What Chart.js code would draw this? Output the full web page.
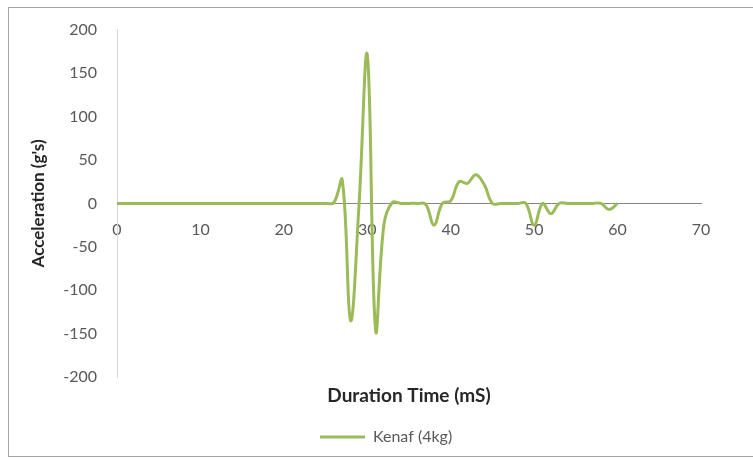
<!DOCTYPE html>
<html>
<head>
<meta charset="utf-8">
<script src="https://cdn.jsdelivr.net/npm/chart.js@4"></script>
<style>
  body { margin: 0; background: #fff; }
  #wrap { position: relative; width: 753px; height: 460px; overflow: hidden; }
  #frame { position: absolute; left: 8px; top: 7px; width: 800px; height: 450px; border: 1px solid #a6a6a6; box-sizing: border-box; pointer-events: none; }
</style>
</head>
<body>
<div id="wrap">
  <canvas id="accelChart" width="753" height="460"></canvas>
  <div id="frame"></div>
</div>
<script>
// duration time (ms) and acceleration (g's)
var timeMs = [0, 1, 2, 3, 4, 5, 6, 7, 8, 9, 10, 11, 12, 13, 14, 15, 16, 17, 18, 19, 20,
              21, 22, 23, 24, 25, 26, 27, 28, 29, 30, 31, 32, 33, 34, 35, 36, 37, 38, 39, 40,
              41, 42, 43, 44, 45, 46, 47, 48, 49, 50, 51, 52, 53, 54, 55, 56, 57, 58, 59, 60];
var kenaf4kg = [0, 0, 0, 0, 0, 0, 0, 0, 0, 0, 0, 0, 0, 0, 0, 0, 0, 0, 0, 0, 0,
                0, 0, 0, 0, 0, 1, 27, -135, -3, 171, -146, -24, 1, 0, 0, 0, -1, -25, 0, 3,
                25, 23, 33, 22, 0, 0, 0, 0, 0, -25, 0, -12, 0, 0, 0, 0, 0, 0, -7, 0];
var xTicks = [0, 10, 20, 30, 40, 50, 60, 70];
var yTicks = [-200, -150, -100, -50, 0, 50, 100, 150, 200];

var points = timeMs.map(function(t, i) { return { x: t, y: kenaf4kg[i] }; });

// legend sits left of the plot centre in the original, nudge it there
var legendShift = {
    id: 'legendShift',
    afterLayout: function(chart) {
        if (chart.legend) { chart.legend.left = 310; }
    }
};

var ctx = document.getElementById('accelChart').getContext('2d');
var accelChart = new Chart(ctx, {
    type: 'line',
    data: {
        datasets: [{
            label: 'Kenaf (4kg)',
            data: points,
            borderColor: '#9bbb59',
            backgroundColor: '#9bbb59',
            borderWidth: 3,
            pointRadius: 0,
            pointStyle: 'line',
            tension: 0.4,
            fill: false
        }]
    },
    options: {
        responsive: false,
        animation: false,
        layout: { padding: { left: 0, right: 52, top: 27, bottom: 5 } },
        scales: {
            x: {
                type: 'linear',
                position: { y: 0 },
                min: 0,
                max: 70,
                afterBuildTicks: function(s) { s.ticks = xTicks.map(function(v) { return { value: v }; }); },
                grid: { display: false, drawTicks: false },
                border: { display: true, color: '#868686', width: 1 },
                ticks: { color: '#595959', font: { family: 'Lato', size: 16 }, padding: 17, maxRotation: 0 }
            },
            y: {
                min: -200,
                max: 200,
                afterBuildTicks: function(s) { s.ticks = yTicks.map(function(v) { return { value: v }; }); },
                afterFit: function(s) { s.width = 117; },
                grid: { display: false, drawTicks: false },
                border: { display: true, color: '#d9d9d9', width: 1 },
                ticks: { color: '#595959', font: { family: 'Lato', size: 16 }, padding: 20 },
                title: {
                    display: true,
                    text: "Acceleration (g's)",
                    color: '#262626',
                    font: { family: 'Lato', size: 17, weight: 'bold' },
                    padding: { top: 28, bottom: 0 }
                }
            }
        },
        plugins: {
            title: {
                display: true,
                position: 'bottom',
                fullSize: false,
                weight: 500,
                text: 'Duration Time (mS)',
                color: '#262626',
                font: { family: 'Lato', size: 19, weight: 'bold' },
                padding: { top: 7, bottom: 12 }
            },
            legend: {
                position: 'bottom',
                align: 'start',
                labels: {
                    usePointStyle: true,
                    pointStyleWidth: 45,
                    color: '#595959',
                    font: { family: 'Lato', size: 16 },
                    padding: 10
                }
            },
            tooltip: { enabled: false }
        }
    },
    plugins: [legendShift]
});
</script>
</body>
</html>
